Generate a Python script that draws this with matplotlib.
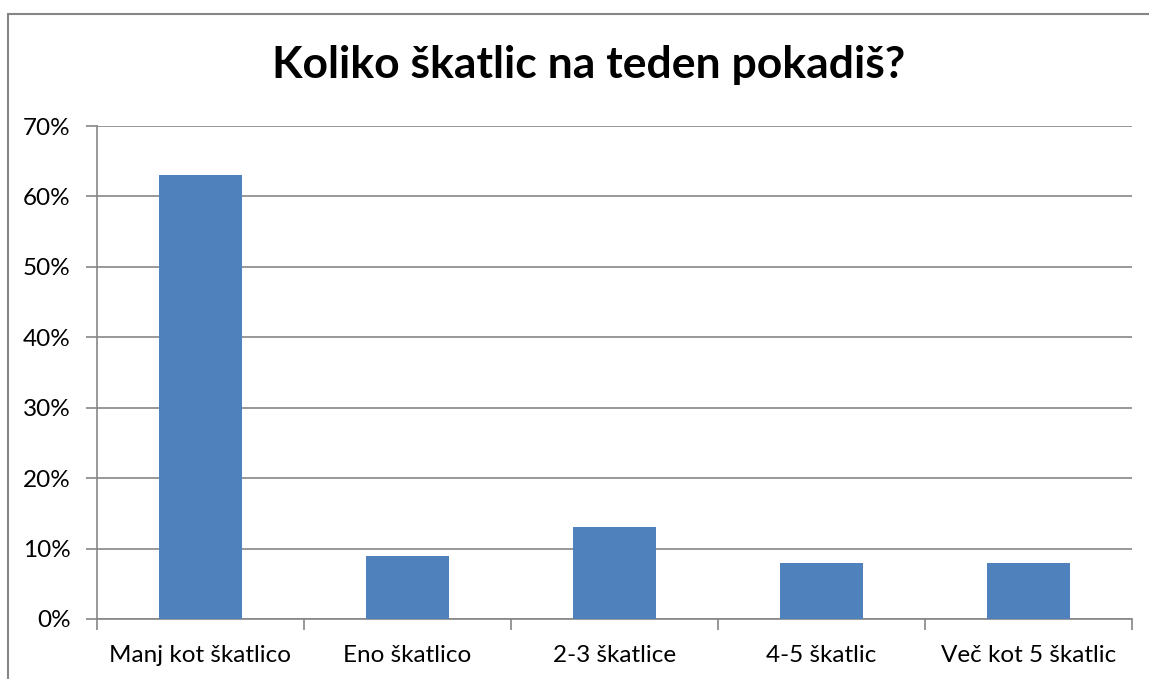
import matplotlib.pyplot as plt
from matplotlib.patches import Rectangle
from matplotlib.ticker import MultipleLocator, FuncFormatter

categories = ["Manj kot škatlico", "Eno škatlico", "2-3 škatlice", "4-5 škatlic", "Več kot 5 škatlic"]
shares = [0.63, 0.09, 0.13, 0.08, 0.08]
title = "Koliko škatlic na teden pokadiš?"

plt.rcParams['font.family'] = ['Lato', 'DejaVu Sans']

fig = plt.figure(figsize=(11.49, 6.79), dpi=100)
ax = fig.add_axes([0.0844, 0.0884, 0.9008, 0.726])

# outer chart frame (Excel style)
fig.patches.append(Rectangle((8 / 1149, -0.1), 1.2, 1 - 14 / 679 + 0.1,
                             transform=fig.transFigure, fill=False,
                             edgecolor='#868686', linewidth=1.5))

x = list(range(len(categories)))
ax.bar(x, shares, width=0.4, color='#4F81BD', zorder=3)

ax.set_xlim(-0.5, len(categories) - 0.5)
ax.set_ylim(0, 0.70)
ax.yaxis.set_major_locator(MultipleLocator(0.1))
ax.yaxis.set_major_formatter(FuncFormatter(lambda v, p: f"{v * 100:.0f}%"))
ax.grid(axis='y', color='#868686', linewidth=1.2, zorder=0)

ax.set_xticks([i - 0.5 for i in range(len(categories) + 1)])
ax.set_xticklabels([])
ax.set_xticks(x, minor=True)
ax.set_xticklabels(categories, minor=True, fontsize=17.5)
ax.tick_params(axis='x', which='minor', length=0, pad=19)
ax.tick_params(axis='x', which='major', length=8, color='#868686', width=1.2)
ax.tick_params(axis='y', length=8, color='#868686', width=1.2, labelsize=17.5, pad=11)

for s in ['top', 'right']:
    ax.spines[s].set_visible(False)
for s in ['left', 'bottom']:
    ax.spines[s].set_color('#868686')
    ax.spines[s].set_linewidth(1.2)

fig.text(0.512, 1 - 78 / 679, title, ha='center', va='baseline',
         fontsize=32, fontweight='bold')

fig.savefig("out.png", dpi=100)
